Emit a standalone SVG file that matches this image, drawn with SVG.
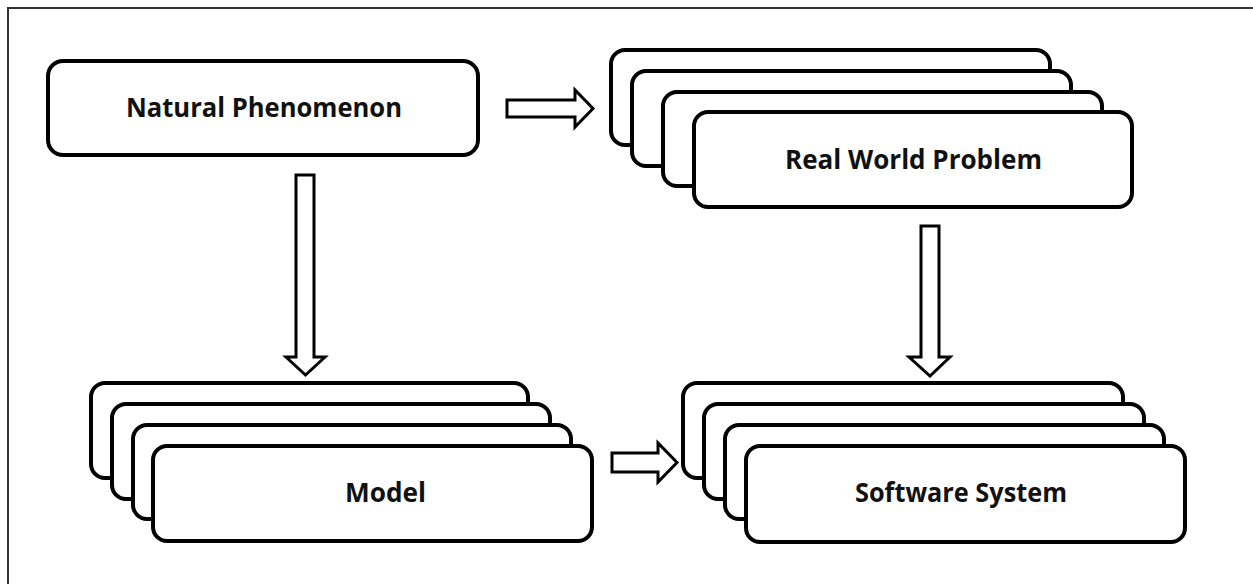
<svg xmlns="http://www.w3.org/2000/svg" width="1253" height="584" viewBox="0 0 1253 584">
  <style>
    .box { fill: #ffffff; stroke: #000000; stroke-width: 4; }
    .arrow { fill: #ffffff; stroke: #000000; stroke-width: 3; stroke-linejoin: miter; }
    .label { font-family: "Open Sans", "Liberation Sans", sans-serif; font-weight: bold; font-size: 26px; fill: #111111; }
    .frame { fill: none; stroke: #333333; stroke-width: 2; }
  </style>
  <rect width="1253" height="584" fill="#ffffff"/>
  <rect class="frame" x="8" y="8" width="1260" height="590"/>

  <g id="natural-phenomenon">
    <rect class="box" x="48" y="61" width="430" height="94" rx="15"/>
    <text class="label" x="264" y="117" text-anchor="middle" textLength="276" lengthAdjust="spacingAndGlyphs">Natural Phenomenon</text>
  </g>

  <g id="real-world-problem">
    <rect class="box" x="611" y="50" width="439" height="95" rx="14"/>
    <rect class="box" x="632" y="71" width="439" height="95" rx="14"/>
    <rect class="box" x="663" y="92" width="439" height="94" rx="14"/>
    <rect class="box" x="694" y="112" width="438" height="95" rx="14"/>
    <text class="label" x="913.5" y="169" text-anchor="middle" textLength="257" lengthAdjust="spacingAndGlyphs">Real World Problem</text>
  </g>

  <g id="model">
    <rect class="box" x="91" y="383" width="437" height="95" rx="14"/>
    <rect class="box" x="112" y="404" width="438" height="95" rx="14"/>
    <rect class="box" x="133" y="425" width="438" height="94" rx="14"/>
    <rect class="box" x="153" y="446" width="439" height="95" rx="14"/>
    <text class="label" x="345" y="502" textLength="81" lengthAdjust="spacingAndGlyphs">Model</text>
  </g>

  <g id="software-system">
    <rect class="box" x="683" y="383" width="440" height="95" rx="14"/>
    <rect class="box" x="704" y="404" width="440" height="95" rx="14"/>
    <rect class="box" x="725" y="425" width="439" height="94" rx="14"/>
    <rect class="box" x="746" y="446" width="439" height="96" rx="14"/>
    <text class="label" x="961" y="502" text-anchor="middle" textLength="212" lengthAdjust="spacingAndGlyphs">Software System</text>
  </g>

  <g id="connectors">
    <polygon class="arrow" points="507,100 575,100 575,90 593,108.5 575,127 575,117 507,117"/>
    <polygon class="arrow" points="296,175 314,175 314,357 325,357 305.5,375 286,357 296,357"/>
    <polygon class="arrow" points="921,226 939,226 939,357 950,357 930,376 909,357 921,357"/>
    <polygon class="arrow" points="612,453 658,453 658,443 677,462.5 658,482 658,472 612,472"/>
  </g>
</svg>
